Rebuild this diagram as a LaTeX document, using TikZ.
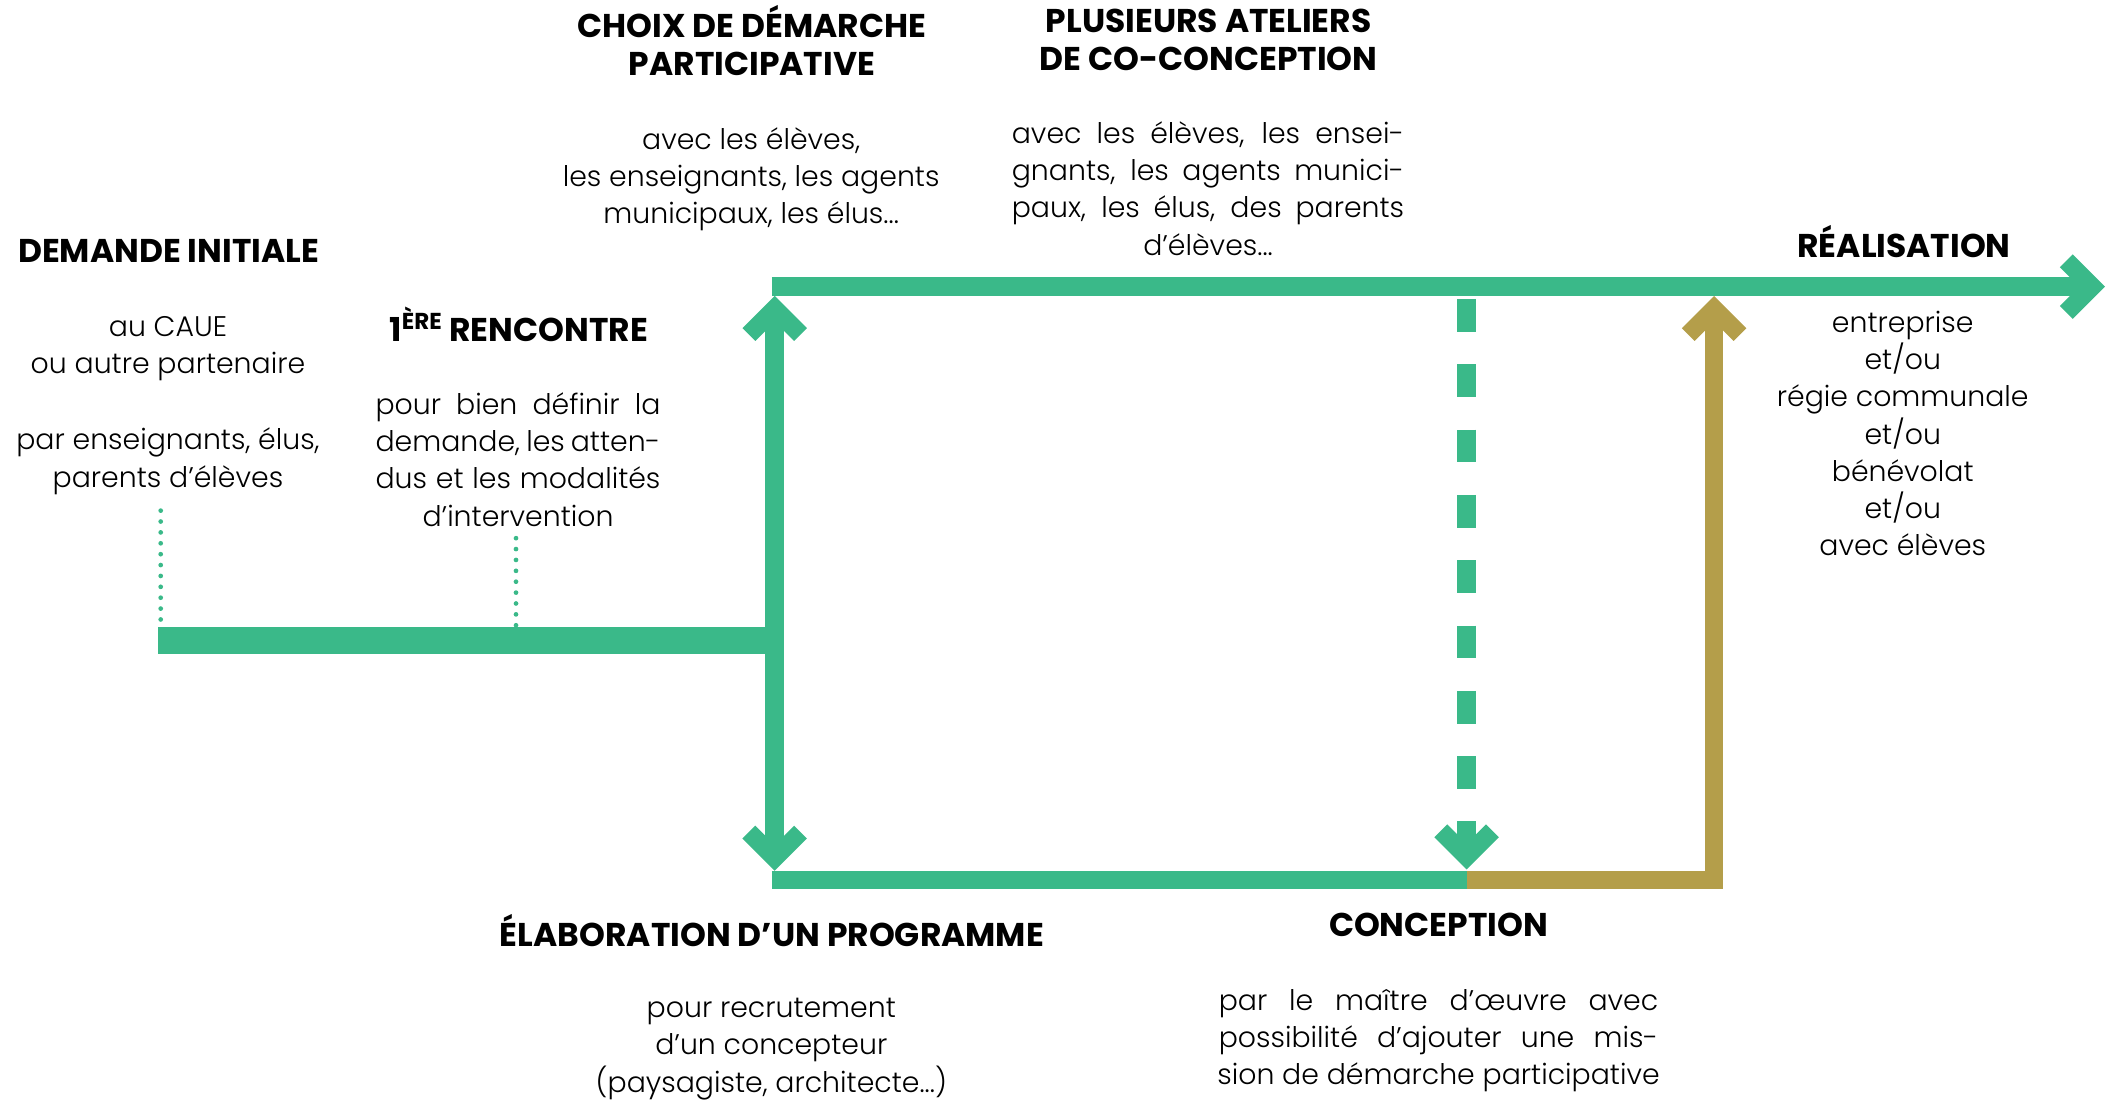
\documentclass[tikz,border=0pt]{standalone}
\usepackage{fontspec}
\setmainfont{Poppins}[UprightFont={* Light},BoldFont={* Bold}]
\usetikzlibrary{calc}
\definecolor{cgreen}{RGB}{58,185,137}
\definecolor{cgold}{RGB}{180,158,74}
\newcommand{\fstrut}{\rule{0pt}{24pt}}
\newcommand{\jline}[2]{\makebox[#1][s]{#2}}
\newcommand{\chevron}[3]{\fill[#3,shift={#1},rotate=#2] (0,0) -- (-24,24) -- (-14.45,33.55) -- (0,19.1) -- (14.45,33.55) -- (24,24) -- cycle;}
\begin{document}
\begin{tikzpicture}[x=1pt,y=-1pt,
  bar/.style={line width=13.8pt,cgreen},
  dots/.style={cgreen,line width=3.5pt,line cap=round,dash pattern=on 0pt off 8.1pt},
  head/.style={font=\fontsize{24.5}{28.2}\selectfont\bfseries,align=center,inner sep=0pt,anchor=north},
  body/.style={font=\fontsize{21.1}{27.7}\selectfont,align=center,inner sep=0pt,anchor=north}]
\useasboundingbox (0,0) rectangle (1568,820);
% coordinates
\coordinate (lbar0) at (117.8,476.4);
\coordinate (lbar1) at (570,476.4);
\coordinate (vtop) at (576.5,220.2);
\coordinate (vbot) at (576.5,648);
\coordinate (top0) at (574.5,213.3);
\coordinate (tend) at (1566.5,213.3);
\coordinate (bot0) at (574.5,654.9);
\coordinate (bmid) at (1091.4,654.9);
\coordinate (dtop) at (1091.4,222.5);
\coordinate (dtip) at (1091.4,647);
\coordinate (gcorner) at (1275.6,654.9);
\coordinate (gtip) at (1275.6,220.2);
\coordinate (dot1a) at (119.6,380);
\coordinate (dot1b) at (119.6,466);
\coordinate (dot2a) at (384,400.5);
\coordinate (dot2b) at (384,466);
% connectors
\draw[dots] (dot1a) -- (dot1b);
\draw[dots] (dot2a) -- (dot2b);
\draw[cgreen,line width=19.9pt] (lbar0) -- (lbar1);
\draw[bar] ($(vtop)+(0,15)$) -- ($(vbot)+(0,-15)$);
\draw[bar] (top0) -- ($(tend)+(-10,0)$);
\draw[bar] (bot0) -- (bmid);
\draw[bar,cgold,line join=miter] (bmid) -- (gcorner) -- ($(gtip)+(0,15)$);
\draw[bar,dash pattern=on 24.4pt off 24.2pt] (dtop) -- ($(dtip)+(0,-12)$);
\chevron{(vtop)}{0}{cgreen}
\chevron{(vbot)}{180}{cgreen}
\chevron{(dtip)}{180}{cgreen}
\chevron{(gtip)}{0}{cgold}
\chevron{(tend)}{-90}{cgreen}
% texts
\node[head] (demande) at (125.5,171.3) {\fstrut DEMANDE INITIALE};
\node[body] (caue) at (125,225.9) {\fstrut au CAUE\\ou autre partenaire};
\node[body] (par) at (125,310.6) {\fstrut par enseignants, élus,\\parents d’élèves};
\node[head] (renc) at (386,228.3) {\fstrut 1\textsuperscript{ÈRE} RENCONTRE};
\node[body] (rencb) at (385.5,284.2) {\jline{212pt}{\fstrut pour bien définir la}\\\jline{212pt}{demande, les atten-}\\\jline{212pt}{dus et les modalités}\\d’intervention};
\node[head] (choix) at (559.5,4) {\fstrut CHOIX DE DÉMARCHE\\PARTICIPATIVE};
\node[body] (choixb) at (559,86.8) {\fstrut avec les élèves,\\les enseignants, les agents\\municipaux, les élus...};
\node[head] (plus) at (899.5,0.3) {\fstrut PLUSIEURS ATELIERS\\DE CO-CONCEPTION};
\node[body] (plusb) at (899,82.6) {\jline{292pt}{\fstrut avec les élèves, les ensei-}\\\jline{292pt}{gnants, les agents munici-}\\\jline{292pt}{paux, les élus, des parents}\\d’élèves...};
\node[head] (real) at (1417,167.6) {\fstrut RÉALISATION};
\node[body] (realb) at (1416,223.2) {\fstrut entreprise\\et/ou\\régie communale\\et/ou\\bénévolat\\et/ou\\avec élèves};
\node[head] (elab) at (574.5,680.2) {\fstrut ÉLABORATION D’UN PROGRAMME};
\node[body] (elabb) at (574,733.2) {\fstrut pour recrutement\\d’un concepteur\\(paysagiste, architecte...)};
\node[head] (conc) at (1070.5,672.9) {\fstrut CONCEPTION};
\node[body] (concb) at (1070.5,727.5) {\jline{327pt}{\fstrut par le maître d’œuvre avec}\\\jline{327pt}{possibilité d’ajouter une mis-}\\sion de démarche participative};
\end{tikzpicture}
\end{document}
